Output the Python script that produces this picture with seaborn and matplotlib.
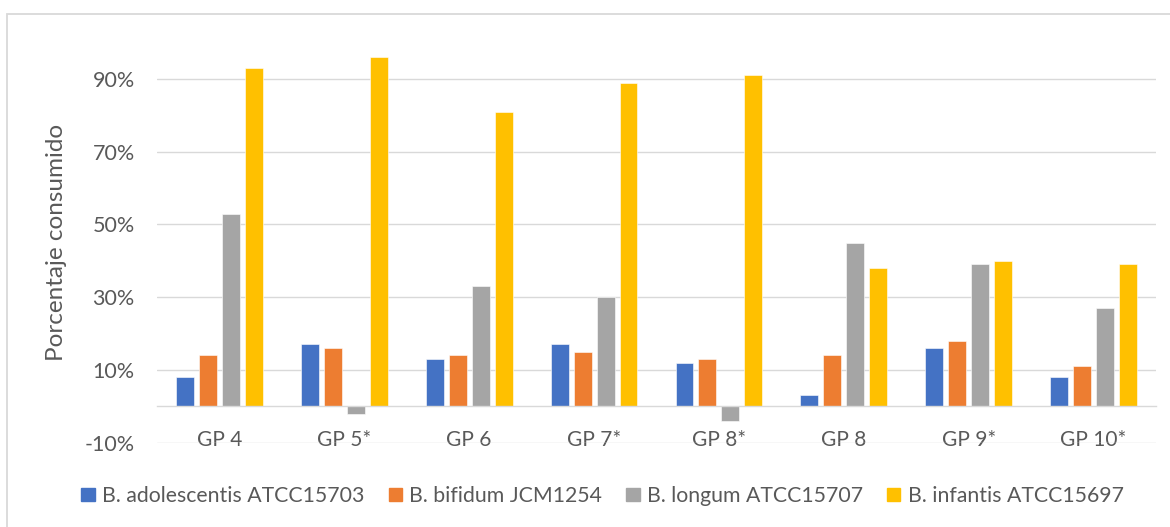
import matplotlib
matplotlib.use("Agg")
import matplotlib.pyplot as plt
import matplotlib.ticker as mticker
from matplotlib.patches import Rectangle
import numpy as np
import pandas as pd
import seaborn as sns

# Data: percentage of each substrate consumed by each strain
categories = ["GP 4", "GP 5*", "GP 6", "GP 7*", "GP 8*", "GP 8", "GP 9*", "GP 10*"]
strains = [
    "B. adolescentis ATCC15703",
    "B. bifidum JCM1254",
    "B. longum ATCC15707",
    "B. infantis ATCC15697",
]
adolescentis = [0.08, 0.17, 0.13, 0.17, 0.12, 0.03, 0.16, 0.08]
bifidum = [0.14, 0.16, 0.14, 0.15, 0.13, 0.14, 0.18, 0.11]
longum = [0.53, -0.02, 0.33, 0.30, -0.04, 0.45, 0.39, 0.27]
infantis = [0.93, 0.96, 0.81, 0.89, 0.91, 0.38, 0.40, 0.39]
y_ticks = [-0.10, 0.10, 0.30, 0.50, 0.70, 0.90]
y_label = "Porcentaje consumido"

colors = ["#4472C4", "#ED7D31", "#A5A5A5", "#FFC000"]
text_color = "#595959"
grid_color = "#D9D9D9"

rows = []
for strain, values in zip(strains, [adolescentis, bifidum, longum, infantis]):
    for cat, v in zip(categories, values):
        rows.append({"grupo": cat, "cepa": strain, "valor": v})
df = pd.DataFrame(rows)

sns.set_theme(style="white")
plt.rcParams["font.family"] = ["Lato", "DejaVu Sans"]

fig = plt.figure(figsize=(11.70, 5.27), dpi=100)
ax = fig.add_axes([157 / 1170, 1 - 442.7 / 527, (1156 - 157) / 1170, (442.7 - 42.6) / 527])

sns.barplot(
    data=df, x="grupo", y="valor", hue="cepa",
    order=categories, hue_order=strains, palette=colors,
    width=0.736, gap=0.22, saturation=1, errorbar=None,
    edgecolor="white", linewidth=0.4, ax=ax, zorder=3,
)

ax.set_ylim(-0.10, 1.00)
ax.set_xlim(-0.5, len(categories) - 0.5)
ax.set_yticks(y_ticks)
ax.yaxis.set_major_formatter(mticker.FuncFormatter(lambda v, _: f"{v * 100:.0f}%"))
ax.grid(axis="y", color=grid_color, linewidth=1.0, zorder=0)
ax.grid(axis="x", visible=False)

for side in ["left", "right", "top"]:
    ax.spines[side].set_visible(False)
ax.spines["bottom"].set_position(("data", 0))
ax.spines["bottom"].set_color(grid_color)
ax.spines["bottom"].set_linewidth(1.0)
ax.spines["bottom"].set_zorder(4)

ax.tick_params(axis="x", length=0, pad=17, labelsize=15, labelcolor=text_color)
ax.tick_params(axis="y", length=0, pad=16, labelsize=15.5, labelcolor=text_color)
ax.set_xlabel("")
ax.set_ylabel(y_label, fontsize=17.5, color=text_color)
ax.yaxis.set_label_coords(-0.090, 0.5)

ax.legend_.remove()
handles = [Rectangle((0, 0), 1, 1, color=c) for c in colors]
fig.legend(
    handles, strains, loc="center", bbox_to_anchor=(0.515, 1 - 496 / 527),
    ncol=4, frameon=False, fontsize=15.3, labelcolor=text_color,
    handlelength=0.62, handleheight=0.62, handletextpad=0.34, columnspacing=1.15,
)

# Chart area border
fig.patches.append(Rectangle((7 / 1170, -0.05), 1.2, 1 - 14 / 527 + 0.05,
                             transform=fig.transFigure, fill=False,
                             edgecolor=grid_color, linewidth=1.3))

fig.savefig("out.png", dpi=100, facecolor="white")
